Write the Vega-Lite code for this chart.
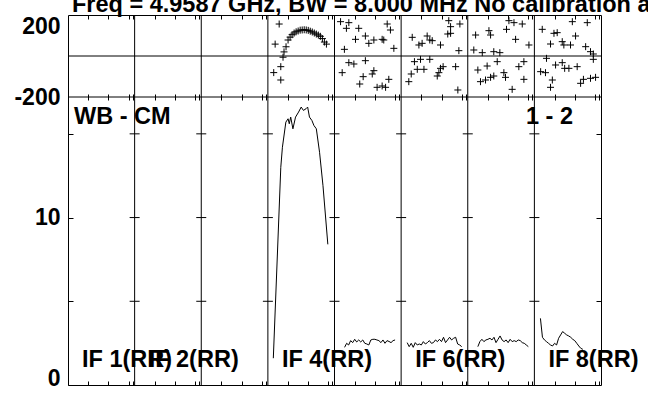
{
  "$schema": "https://vega.github.io/schema/vega-lite/v6.json",
  "width": 533,
  "height": 370,
  "autosize": {"type": "none"},
  "padding": {"left": 68, "top": 15, "right": 47, "bottom": 9},
  "background": "white",
  "config": {
    "view": {"stroke": "black", "strokeWidth": 1},
    "axis": {"labelFont": "Liberation Sans", "labelFontWeight": "bold", "labelFontSize": 23, "labelColor": "black", "tickColor": "black", "tickWidth": 1, "domain": false, "grid": false},
    "text": {"font": "Liberation Sans", "fontWeight": "bold", "fontSize": 23.5, "color": "black"}
  },
  "datasets": {
    "dividers": [{"ch": 33}, {"ch": 66}, {"ch": 99}, {"ch": 132}, {"ch": 165}, {"ch": 198}, {"ch": 231}],
    "labels": [
      {"label": "IF 1(RR)", "start": 0},
      {"label": "IF 2(RR)", "start": 33},
      {"label": "IF 4(RR)", "start": 99},
      {"label": "IF 6(RR)", "start": 165},
      {"label": "IF 8(RR)", "start": 231}
    ],
    "phase": [
      {"band": 4, "ch": 101.9, "phase": -81}, {"band": 4, "ch": 102.6, "phase": 58}, {"band": 4, "ch": 104.6, "phase": 156},
      {"band": 4, "ch": 105.4, "phase": -52}, {"band": 4, "ch": 105.4, "phase": -117}, {"band": 4, "ch": 106.5, "phase": -6},
      {"band": 4, "ch": 107, "phase": 20}, {"band": 4, "ch": 108, "phase": 45}, {"band": 4, "ch": 109, "phase": 78},
      {"band": 4, "ch": 110, "phase": 92}, {"band": 4, "ch": 111, "phase": 104}, {"band": 4, "ch": 112, "phase": 112},
      {"band": 4, "ch": 113, "phase": 118}, {"band": 4, "ch": 114, "phase": 122}, {"band": 4, "ch": 115, "phase": 126},
      {"band": 4, "ch": 116, "phase": 127}, {"band": 4, "ch": 117, "phase": 128}, {"band": 4, "ch": 118, "phase": 127},
      {"band": 4, "ch": 119, "phase": 125}, {"band": 4, "ch": 120, "phase": 121}, {"band": 4, "ch": 121, "phase": 117},
      {"band": 4, "ch": 122, "phase": 112}, {"band": 4, "ch": 123, "phase": 107}, {"band": 4, "ch": 124, "phase": 102},
      {"band": 4, "ch": 125, "phase": 96}, {"band": 4, "ch": 126, "phase": 85}, {"band": 4, "ch": 127, "phase": 68},
      {"band": 4, "ch": 128, "phase": 58},
      {"band": 5, "ch": 135.0, "phase": 167.5}, {"band": 5, "ch": 139.1, "phase": 162.6}, {"band": 5, "ch": 137.9, "phase": 135.0},
      {"band": 5, "ch": 144.0, "phase": 135.0}, {"band": 5, "ch": 142.4, "phase": 81.3}, {"band": 5, "ch": 147.3, "phase": 97.6},
      {"band": 5, "ch": 149.0, "phase": 61.8}, {"band": 5, "ch": 151.5, "phase": 78.1}, {"band": 5, "ch": 155.6, "phase": 81.3},
      {"band": 5, "ch": 156.4, "phase": 78.1}, {"band": 5, "ch": 158.1, "phase": 156.1}, {"band": 5, "ch": 159.7, "phase": 126.8},
      {"band": 5, "ch": 161.4, "phase": 37.4}, {"band": 5, "ch": 136.9, "phase": 32.5}, {"band": 5, "ch": 139.1, "phase": -32.5},
      {"band": 5, "ch": 141.6, "phase": -39.0}, {"band": 5, "ch": 147.3, "phase": -22.8}, {"band": 5, "ch": 135.8, "phase": -81.3},
      {"band": 5, "ch": 146.2, "phase": -100.8}, {"band": 5, "ch": 144.5, "phase": -136.6}, {"band": 5, "ch": 151.5, "phase": -71.5},
      {"band": 5, "ch": 150.7, "phase": -87.8}, {"band": 5, "ch": 153.1, "phase": -152.8}, {"band": 5, "ch": 155.6, "phase": -146.3},
      {"band": 5, "ch": 157.3, "phase": -152.8}, {"band": 5, "ch": 158.9, "phase": -113.8},
      {"band": 6, "ch": 170.5, "phase": 91.1}, {"band": 6, "ch": 173.8, "phase": 53.7}, {"band": 6, "ch": 175.4, "phase": 61.8},
      {"band": 6, "ch": 177.9, "phase": 97.6}, {"band": 6, "ch": 179.2, "phase": 78.1}, {"band": 6, "ch": 180.4, "phase": 74.8},
      {"band": 6, "ch": 184.5, "phase": 53.7}, {"band": 6, "ch": 188.6, "phase": 172.4}, {"band": 6, "ch": 194.1, "phase": 156.1},
      {"band": 6, "ch": 189.5, "phase": 143.1}, {"band": 6, "ch": 188.1, "phase": 107.3}, {"band": 6, "ch": 189.5, "phase": 110.6},
      {"band": 6, "ch": 193.6, "phase": 26.0}, {"band": 6, "ch": 171.6, "phase": -27.6}, {"band": 6, "ch": 174.6, "phase": -16.3},
      {"band": 6, "ch": 179.2, "phase": -16.3}, {"band": 6, "ch": 173.0, "phase": -65.0}, {"band": 6, "ch": 176.3, "phase": -65.0},
      {"band": 6, "ch": 170.0, "phase": -87.8}, {"band": 6, "ch": 168.8, "phase": -125.2}, {"band": 6, "ch": 184.5, "phase": -60.2},
      {"band": 6, "ch": 185.8, "phase": -52.0}, {"band": 6, "ch": 183.7, "phase": -81.3}, {"band": 6, "ch": 182.9, "phase": -97.6},
      {"band": 6, "ch": 192.0, "phase": -52.0}, {"band": 6, "ch": 193.1, "phase": -165.8},
      {"band": 7, "ch": 201.9, "phase": 102.4}, {"band": 7, "ch": 208.5, "phase": 123.6}, {"band": 7, "ch": 209.3, "phase": 102.4},
      {"band": 7, "ch": 217.2, "phase": 130.1}, {"band": 7, "ch": 218.4, "phase": 172.4}, {"band": 7, "ch": 220.9, "phase": 162.6},
      {"band": 7, "ch": 225.0, "phase": 156.1}, {"band": 7, "ch": 221.7, "phase": 81.3}, {"band": 7, "ch": 228.3, "phase": 53.7},
      {"band": 7, "ch": 201.0, "phase": 29.3}, {"band": 7, "ch": 205.2, "phase": 16.3}, {"band": 7, "ch": 210.9, "phase": 21.1},
      {"band": 7, "ch": 213.9, "phase": 16.3}, {"band": 7, "ch": 203.0, "phase": -68.3}, {"band": 7, "ch": 207.6, "phase": -48.8},
      {"band": 7, "ch": 212.6, "phase": -27.6}, {"band": 7, "ch": 209.3, "phase": -104.1}, {"band": 7, "ch": 210.9, "phase": -97.6},
      {"band": 7, "ch": 215.9, "phase": -81.3}, {"band": 7, "ch": 216.7, "phase": -104.1}, {"band": 7, "ch": 223.3, "phase": -52.0},
      {"band": 7, "ch": 225.8, "phase": -27.6}, {"band": 7, "ch": 225.8, "phase": -113.8}, {"band": 7, "ch": 204.3, "phase": -125.2},
      {"band": 7, "ch": 206.8, "phase": -117.1}, {"band": 7, "ch": 220.0, "phase": -162.6},
      {"band": 8, "ch": 234.9, "phase": 130.1}, {"band": 8, "ch": 240.7, "phase": 110.6}, {"band": 8, "ch": 242.3, "phase": 113.8},
      {"band": 8, "ch": 249.8, "phase": 167.5}, {"band": 8, "ch": 257.2, "phase": 162.6}, {"band": 8, "ch": 251.4, "phase": 97.6},
      {"band": 8, "ch": 244.8, "phase": 69.9}, {"band": 8, "ch": 239.0, "phase": 58.5}, {"band": 8, "ch": 245.6, "phase": 53.7},
      {"band": 8, "ch": 248.9, "phase": 53.7}, {"band": 8, "ch": 256.4, "phase": 45.5}, {"band": 8, "ch": 258.8, "phase": 21.1},
      {"band": 8, "ch": 260.2, "phase": 9.8}, {"band": 8, "ch": 237.0, "phase": -11.4}, {"band": 8, "ch": 234.1, "phase": -76.4},
      {"band": 8, "ch": 236.5, "phase": -81.3}, {"band": 8, "ch": 241.5, "phase": -43.9}, {"band": 8, "ch": 244.8, "phase": -32.5},
      {"band": 8, "ch": 246.0, "phase": -60.2}, {"band": 8, "ch": 248.1, "phase": -60.2}, {"band": 8, "ch": 252.2, "phase": -52.0},
      {"band": 8, "ch": 239.9, "phase": -117.1}, {"band": 8, "ch": 239.0, "phase": -152.8}, {"band": 8, "ch": 253.9, "phase": -133.3},
      {"band": 8, "ch": 255.3, "phase": -113.8}, {"band": 8, "ch": 258.8, "phase": -108.9}, {"band": 8, "ch": 261.3, "phase": -104.1},
      {"band": 8, "ch": 260.2, "phase": -16.3}
    ],
    "amp": [
      {"band": 4, "ch": 101.7, "amp": 1.6}, {"band": 4, "ch": 105.4, "amp": 13.0}, {"band": 4, "ch": 106.2, "amp": 14.2},
      {"band": 4, "ch": 107.9, "amp": 15.7}, {"band": 4, "ch": 109.0, "amp": 15.9}, {"band": 4, "ch": 109.6, "amp": 15.6},
      {"band": 4, "ch": 110.3, "amp": 16.0}, {"band": 4, "ch": 111.4, "amp": 15.3}, {"band": 4, "ch": 112.7, "amp": 16.0},
      {"band": 4, "ch": 114.2, "amp": 16.3}, {"band": 4, "ch": 115.5, "amp": 16.6}, {"band": 4, "ch": 116.6, "amp": 16.4},
      {"band": 4, "ch": 117.9, "amp": 16.5}, {"band": 4, "ch": 118.7, "amp": 16.6}, {"band": 4, "ch": 119.6, "amp": 16.0},
      {"band": 4, "ch": 120.8, "amp": 15.8}, {"band": 4, "ch": 121.8, "amp": 15.5}, {"band": 4, "ch": 123.0, "amp": 15.3},
      {"band": 4, "ch": 124.6, "amp": 13.9}, {"band": 4, "ch": 126.3, "amp": 11.9}, {"band": 4, "ch": 128.7, "amp": 8.4},
      {"band": 5, "ch": 137, "amp": 2.25}, {"band": 5, "ch": 138, "amp": 2.49}, {"band": 5, "ch": 139, "amp": 2.39}, {"band": 5, "ch": 140, "amp": 2.65},
      {"band": 5, "ch": 141, "amp": 2.53}, {"band": 5, "ch": 142, "amp": 2.73}, {"band": 5, "ch": 143, "amp": 2.57}, {"band": 5, "ch": 144, "amp": 2.69},
      {"band": 5, "ch": 145, "amp": 2.57}, {"band": 5, "ch": 146, "amp": 2.69}, {"band": 5, "ch": 147, "amp": 2.49}, {"band": 5, "ch": 148, "amp": 2.45},
      {"band": 5, "ch": 149, "amp": 2.39}, {"band": 5, "ch": 150, "amp": 2.69}, {"band": 5, "ch": 151, "amp": 2.73}, {"band": 5, "ch": 152, "amp": 2.73},
      {"band": 5, "ch": 153, "amp": 2.69}, {"band": 5, "ch": 154, "amp": 2.65}, {"band": 5, "ch": 155, "amp": 2.53}, {"band": 5, "ch": 156, "amp": 2.69},
      {"band": 5, "ch": 157, "amp": 2.49}, {"band": 5, "ch": 158, "amp": 2.65}, {"band": 5, "ch": 159, "amp": 2.6}, {"band": 5, "ch": 160, "amp": 2.53},
      {"band": 5, "ch": 161, "amp": 2.65}, {"band": 5, "ch": 162, "amp": 2.69},
      {"band": 6, "ch": 168, "amp": 2.53}, {"band": 6, "ch": 169, "amp": 2.29}, {"band": 6, "ch": 170, "amp": 2.49}, {"band": 6, "ch": 171, "amp": 2.25},
      {"band": 6, "ch": 172, "amp": 2.53}, {"band": 6, "ch": 173, "amp": 2.39}, {"band": 6, "ch": 174, "amp": 2.45}, {"band": 6, "ch": 175, "amp": 2.39},
      {"band": 6, "ch": 176, "amp": 2.59}, {"band": 6, "ch": 177, "amp": 2.45}, {"band": 6, "ch": 178, "amp": 2.53}, {"band": 6, "ch": 179, "amp": 2.65},
      {"band": 6, "ch": 180, "amp": 2.49}, {"band": 6, "ch": 181, "amp": 2.53}, {"band": 6, "ch": 182, "amp": 2.69}, {"band": 6, "ch": 183, "amp": 2.59},
      {"band": 6, "ch": 184, "amp": 2.73}, {"band": 6, "ch": 185, "amp": 2.59}, {"band": 6, "ch": 186, "amp": 2.85}, {"band": 6, "ch": 187, "amp": 2.53},
      {"band": 6, "ch": 188, "amp": 2.69}, {"band": 6, "ch": 189, "amp": 2.85}, {"band": 6, "ch": 190, "amp": 2.69}, {"band": 6, "ch": 191, "amp": 2.79},
      {"band": 6, "ch": 192, "amp": 2.85}, {"band": 6, "ch": 193, "amp": 2.45}, {"band": 6, "ch": 194, "amp": 2.39}, {"band": 6, "ch": 195, "amp": 2.29},
      {"band": 7, "ch": 203, "amp": 2.29}, {"band": 7, "ch": 204, "amp": 2.59}, {"band": 7, "ch": 205, "amp": 2.73}, {"band": 7, "ch": 206, "amp": 2.59},
      {"band": 7, "ch": 207, "amp": 2.69}, {"band": 7, "ch": 208, "amp": 2.73}, {"band": 7, "ch": 209, "amp": 2.79}, {"band": 7, "ch": 210, "amp": 2.69},
      {"band": 7, "ch": 211, "amp": 2.85}, {"band": 7, "ch": 212, "amp": 2.53}, {"band": 7, "ch": 213, "amp": 2.73}, {"band": 7, "ch": 214, "amp": 2.93},
      {"band": 7, "ch": 215, "amp": 2.69}, {"band": 7, "ch": 216, "amp": 2.59}, {"band": 7, "ch": 217, "amp": 2.69}, {"band": 7, "ch": 218, "amp": 2.53},
      {"band": 7, "ch": 219, "amp": 2.73}, {"band": 7, "ch": 220, "amp": 2.59}, {"band": 7, "ch": 221, "amp": 2.65}, {"band": 7, "ch": 222, "amp": 2.59},
      {"band": 7, "ch": 223, "amp": 2.69}, {"band": 7, "ch": 224, "amp": 2.65}, {"band": 7, "ch": 225, "amp": 2.53}, {"band": 7, "ch": 226, "amp": 2.49},
      {"band": 7, "ch": 227, "amp": 2.39}, {"band": 7, "ch": 228, "amp": 2.29},
      {"band": 8, "ch": 234, "amp": 3.98}, {"band": 8, "ch": 235, "amp": 2.85}, {"band": 8, "ch": 236, "amp": 2.69}, {"band": 8, "ch": 237, "amp": 2.59},
      {"band": 8, "ch": 238, "amp": 2.49}, {"band": 8, "ch": 239, "amp": 2.39}, {"band": 8, "ch": 240, "amp": 2.33}, {"band": 8, "ch": 241, "amp": 2.49},
      {"band": 8, "ch": 242, "amp": 2.39}, {"band": 8, "ch": 243, "amp": 2.79}, {"band": 8, "ch": 244, "amp": 2.99}, {"band": 8, "ch": 245, "amp": 3.19},
      {"band": 8, "ch": 246, "amp": 3.09}, {"band": 8, "ch": 247, "amp": 2.99}, {"band": 8, "ch": 248, "amp": 2.93}, {"band": 8, "ch": 249, "amp": 2.85},
      {"band": 8, "ch": 250, "amp": 2.73}, {"band": 8, "ch": 251, "amp": 2.65}, {"band": 8, "ch": 252, "amp": 2.49}, {"band": 8, "ch": 253, "amp": 2.33},
      {"band": 8, "ch": 254, "amp": 2.19}, {"band": 8, "ch": 255, "amp": 2.13}
    ]
  },
  "resolve": {"scale": {"y": "independent"}, "axis": {"x": "independent", "y": "independent"}},
  "layer": [
    {
      "data": {"name": "dividers"},
      "mark": {"type": "rule", "color": "black", "strokeWidth": 1},
      "encoding": {"x": {"field": "ch", "type": "quantitative", "scale": {"domain": [0, 264], "nice": false, "zero": false}, "axis": null}}
    },
    {
      "data": {"values": [{}]},
      "mark": {"type": "rule", "color": "black", "strokeWidth": 1},
      "encoding": {"y": {"datum": 0, "type": "quantitative", "scale": {"domain": [-200, 200], "range": [82, 0], "nice": false, "zero": false}, "axis": null}}
    },
    {
      "data": {"values": [{}]},
      "mark": {"type": "rule", "color": "black", "strokeWidth": 1},
      "encoding": {"y": {"datum": -200, "type": "quantitative", "scale": {"domain": [-200, 200], "range": [82, 0], "nice": false, "zero": false}, "axis": null}}
    },
    {
      "data": {"name": "phase"},
      "mark": {"type": "point", "shape": "M-1,0L1,0M0,-1L0,1", "size": 49, "filled": false, "stroke": "black", "strokeWidth": 1, "opacity": 1},
      "encoding": {
        "x": {"field": "ch", "type": "quantitative", "scale": {"domain": [0, 264], "nice": false, "zero": false},
              "axis": {"orient": "top", "title": null, "values": [10,20,30,32,43,53,63,65,76,86,96,98,109,119,129,131,142,152,162,164,175,185,195,197,208,218,228,230,241,251,261,263], "labels": false, "tickSize": -4}},
        "y": {"field": "phase", "type": "quantitative", "scale": {"domain": [-200, 200], "range": [82, 0], "nice": false, "zero": false},
              "axis": {"orient": "left", "title": null, "values": [-200, 200], "ticks": false, "labelPadding": 8,
                       "labelExpr": "datum.value < 0 ? '-200' : '200'",
                       "labelBaseline": {"condition": {"test": "datum.value == 200", "value": "top"}, "value": "middle"}}}
      }
    },
    {
      "data": {"values": [{}]},
      "mark": {"type": "text", "text": "Freq = 4.9587 GHz, BW = 8.000 MHz   No calibration applied", "align": "left", "baseline": "alphabetic", "dx": 4},
      "encoding": {
        "x": {"datum": 0, "type": "quantitative", "scale": {"domain": [0, 264], "nice": false, "zero": false}, "axis": null},
        "y": {"datum": 216, "type": "quantitative", "scale": {"domain": [-200, 200], "range": [82, 0], "nice": false, "zero": false}, "axis": null}
      }
    },
    {
      "data": {"name": "amp"},
      "mark": {"type": "line", "color": "black", "strokeWidth": 1},
      "encoding": {
        "x": {"field": "ch", "type": "quantitative", "scale": {"domain": [0, 264], "nice": false, "zero": false},
              "axis": {"orient": "bottom", "title": null, "values": [10,20,30,32,43,53,63,65,76,86,96,98,109,119,129,131,142,152,162,164,175,185,195,197,208,218,228,230,241,251,261,263], "labels": false, "tickSize": -4}},
        "y": {"field": "amp", "type": "quantitative", "scale": {"domain": [0, 17.2], "range": [370, 82], "nice": false, "zero": false},
              "axis": {"orient": "left", "title": null, "values": [0, 5, 10, 15], "tickSize": -5, "labelPadding": 13,
                       "labelExpr": "datum.value == 0 || datum.value == 10 ? datum.label : ''",
                       "labelBaseline": {"condition": {"test": "datum.value == 0", "value": "alphabetic"}, "value": "middle"}}},
        "detail": {"field": "band", "type": "nominal"}
      }
    },
    {
      "data": {"name": "dividers"},
      "mark": {"type": "tick", "orient": "horizontal", "size": 10, "thickness": 1, "color": "black", "opacity": 1},
      "encoding": {
        "x": {"field": "ch", "type": "quantitative", "scale": {"domain": [0, 264], "nice": false, "zero": false}, "axis": null},
        "y": {"datum": 5, "type": "quantitative", "scale": {"domain": [0, 17.2], "range": [370, 82], "nice": false, "zero": false}, "axis": null}
      }
    },
    {
      "data": {"name": "dividers"},
      "mark": {"type": "tick", "orient": "horizontal", "size": 10, "thickness": 1, "color": "black", "opacity": 1},
      "encoding": {
        "x": {"field": "ch", "type": "quantitative", "scale": {"domain": [0, 264], "nice": false, "zero": false}, "axis": null},
        "y": {"datum": 10, "type": "quantitative", "scale": {"domain": [0, 17.2], "range": [370, 82], "nice": false, "zero": false}, "axis": null}
      }
    },
    {
      "data": {"name": "dividers"},
      "mark": {"type": "tick", "orient": "horizontal", "size": 10, "thickness": 1, "color": "black", "opacity": 1},
      "encoding": {
        "x": {"field": "ch", "type": "quantitative", "scale": {"domain": [0, 264], "nice": false, "zero": false}, "axis": null},
        "y": {"datum": 15, "type": "quantitative", "scale": {"domain": [0, 17.2], "range": [370, 82], "nice": false, "zero": false}, "axis": null}
      }
    },
    {
      "data": {"name": "labels"},
      "mark": {"type": "text", "align": "left", "baseline": "alphabetic", "dx": 14},
      "encoding": {
        "text": {"field": "label"},
        "x": {"field": "start", "type": "quantitative", "scale": {"domain": [0, 264], "nice": false, "zero": false},
              "axis": {"orient": "top", "title": null, "offset": -79, "values": [10,20,30,32,43,53,63,65,76,86,96,98,109,119,129,131,142,152,162,164,175,185,195,197,208,218,228,230,241,251,261,263], "labels": false, "tickSize": -6}},
        "y": {"datum": 1.1, "type": "quantitative", "scale": {"domain": [0, 17.2], "range": [370, 82], "nice": false, "zero": false},
              "axis": {"orient": "right", "title": null, "values": [5, 10, 15], "labels": false, "tickSize": -5}}
      }
    },
    {
      "data": {"values": [{}]},
      "mark": {"type": "text", "text": "WB - CM", "align": "left", "baseline": "alphabetic", "dx": 6},
      "encoding": {
        "x": {"datum": 0, "type": "quantitative", "scale": {"domain": [0, 264], "nice": false, "zero": false}, "axis": null},
        "y": {"datum": 15.6, "type": "quantitative", "scale": {"domain": [0, 17.2], "range": [370, 82], "nice": false, "zero": false}, "axis": null}
      }
    },
    {
      "data": {"values": [{}]},
      "mark": {"type": "text", "text": "1 - 2", "align": "right", "baseline": "alphabetic", "dx": -28},
      "encoding": {
        "x": {"datum": 264, "type": "quantitative", "scale": {"domain": [0, 264], "nice": false, "zero": false}, "axis": null},
        "y": {"datum": 15.6, "type": "quantitative", "scale": {"domain": [0, 17.2], "range": [370, 82], "nice": false, "zero": false}, "axis": null}
      }
    }
  ]
}
